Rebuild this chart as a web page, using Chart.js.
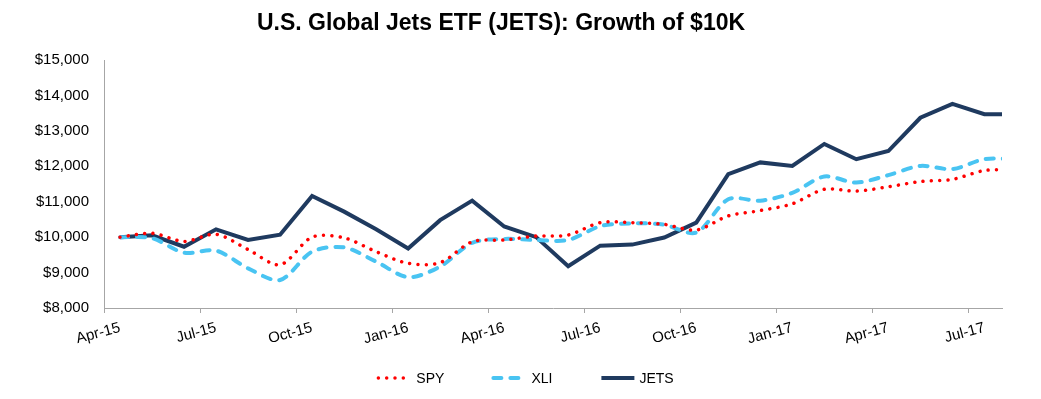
<!DOCTYPE html>
<html>
<head>
<meta charset="utf-8">
<script src="https://cdn.jsdelivr.net/npm/chart.js@4.4.1/dist/chart.umd.min.js"></script>
<style>
    html, body { margin: 0; padding: 0; background: #fff; }
    #wrap { width: 1041px; height: 399px; position: relative; }
</style>
</head>
<body>
<div id="wrap"><canvas id="jetsChart" width="1041" height="399"></canvas></div>
<script>
// Monthly values, Apr-15 .. Aug-17 (last month only partly visible at the right edge)
const months = [
    "Apr-15", "May-15", "Jun-15", "Jul-15", "Aug-15", "Sep-15", "Oct-15", "Nov-15", "Dec-15",
    "Jan-16", "Feb-16", "Mar-16", "Apr-16", "May-16", "Jun-16", "Jul-16", "Aug-16", "Sep-16",
    "Oct-16", "Nov-16", "Dec-16", "Jan-17", "Feb-17", "Mar-17", "Apr-17", "May-17", "Jun-17",
    "Jul-17", "Aug-17"
];
const tickLabels = ["Apr-15", "Jul-15", "Oct-15", "Jan-16", "Apr-16", "Jul-16", "Oct-16", "Jan-17", "Apr-17", "Jul-17"];

const spyValues = [
    10000, 10110, 9880, 10080, 9650, 9220, 10000, 9980, 9590,
    9260, 9280, 9870, 9920, 10030, 10060, 10410, 10410, 10360,
    10200, 10600, 10750, 10940, 11350, 11300, 11420, 11570, 11630,
    11880, 11900
];
const xliValues = [
    10000, 9970, 9560, 9620, 9120, 8790, 9590, 9710, 9310,
    8870, 9170, 9840, 9950, 9920, 9920, 10310, 10390, 10350,
    10130, 11070, 11030, 11250, 11710, 11540, 11750, 12010, 11920,
    12200, 12200
];
const jetsValues = [
    10000, 10050, 9730, 10220, 9920, 10070, 11160, 10720, 10220,
    9680, 10480, 11030, 10300, 10000, 9180, 9760, 9790, 9990,
    10410, 11780, 12110, 12010, 12630, 12200, 12430, 13370, 13760,
    13470, 13470
];

const yTicks = [8000, 9000, 10000, 11000, 12000, 13000, 14000, 15000];

const FONT = '"Liberation Sans", Arial, sans-serif';
const axisGray = "#A6A6A6";

function toPoints(values) {
    return values.map((v, i) => ({ x: i, y: v }));
}

// Title drawn by hand so it can sit slightly left of the canvas centre, like the original
const titlePlugin = {
    id: "customTitle",
    afterDraw(chart) {
        const ctx = chart.ctx;
        ctx.save();
        ctx.font = `bold 23px ${FONT}`;
        ctx.fillStyle = "#000";
        ctx.textAlign = "center";
        ctx.textBaseline = "alphabetic";
        ctx.fillText("U.S. Global Jets ETF (JETS): Growth of $10K", 501, 30);
        ctx.restore();
    },
};

// Legend built from the datasets' own line styles
const legendPlugin = {
    id: "lineLegend",
    afterDraw(chart) {
        const ctx = chart.ctx;
        const sampleWidth = 37;
        const textGap = 3;
        const itemGap = 47;
        const centerX = 525;
        const y = 378;

        ctx.save();
        ctx.font = `14px ${FONT}`;
        const items = chart.data.datasets.map((ds) => ({ ds, w: ctx.measureText(ds.label).width }));
        const total = items.reduce((s, it) => s + sampleWidth + textGap + it.w, 0) + itemGap * (items.length - 1);
        let x = centerX - total / 2;

        items.forEach(({ ds, w }) => {
            ctx.beginPath();
            ctx.strokeStyle = ds.borderColor;
            ctx.lineWidth = ds.borderWidth;
            ctx.lineCap = ds.borderCapStyle || "butt";
            ctx.setLineDash(ds.borderDash || []);
            ctx.moveTo(x + 2, y);
            ctx.lineTo(x + sampleWidth - 2, y);
            ctx.stroke();
            ctx.setLineDash([]);

            ctx.fillStyle = "#000";
            ctx.textAlign = "left";
            ctx.textBaseline = "middle";
            ctx.fillText(ds.label, x + sampleWidth + textGap, y + 1);
            x += sampleWidth + textGap + w + itemGap;
        });
        ctx.restore();
    },
};

const ctx = document.getElementById("jetsChart").getContext("2d");

new Chart(ctx, {
    type: "line",
    data: {
        datasets: [
            {
                label: "SPY",
                data: toPoints(spyValues),
                borderColor: "#FF0000",
                borderWidth: 3.5,
                borderDash: [0.01, 8.3],
                borderCapStyle: "round",
                tension: 0.3,
                pointRadius: 0,
                fill: false,
                clip: { left: 5, top: 5, bottom: 5, right: 0 },
            },
            {
                label: "XLI",
                data: toPoints(xliValues),
                borderColor: "#49C4F2",
                borderWidth: 4,
                borderDash: [8, 9],
                borderCapStyle: "round",
                tension: 0.3,
                pointRadius: 0,
                fill: false,
                clip: { left: 5, top: 5, bottom: 5, right: 0 },
            },
            {
                label: "JETS",
                data: toPoints(jetsValues),
                borderColor: "#1F3A5F",
                borderWidth: 4,
                borderCapStyle: "butt",
                borderJoinStyle: "miter",
                tension: 0,
                pointRadius: 0,
                fill: false,
                clip: { left: 5, top: 5, bottom: 5, right: 0 },
            },
        ],
    },
    options: {
        responsive: false,
        animation: false,
        events: [],
        layout: {
            padding: { top: 60, right: 39, bottom: 0, left: 0 },
        },
        plugins: {
            legend: { display: false },
            title: { display: false },
            tooltip: { enabled: false },
        },
        scales: {
            x: {
                type: "linear",
                min: -0.5,
                max: 27.55,
                afterBuildTicks: (scale) => {
                    scale.ticks = tickLabels.map((label) => ({ value: months.indexOf(label) - 0.5 }));
                },
                afterFit: (scale) => {
                    scale.height = 91;
                },
                grid: {
                    drawOnChartArea: false,
                    drawTicks: true,
                    tickLength: 5,
                    color: axisGray,
                },
                border: { display: true, color: axisGray, width: 1 },
                ticks: {
                    autoSkip: false,
                    minRotation: 15,
                    maxRotation: 15,
                    labelOffset: 16,
                    padding: 6,
                    color: "#000",
                    font: { family: FONT, size: 15 },
                    callback: (value, index) => tickLabels[index],
                },
            },
            y: {
                min: 8000,
                max: 15000,
                afterBuildTicks: (scale) => {
                    scale.ticks = yTicks.map((v) => ({ value: v }));
                },
                afterFit: (scale) => {
                    scale.width = 104;
                },
                grid: {
                    drawOnChartArea: false,
                    drawTicks: false,
                },
                border: { display: true, color: axisGray, width: 1 },
                ticks: {
                    padding: 15,
                    color: "#000",
                    font: { family: FONT, size: 15 },
                    callback: (value) => "$" + Number(value).toLocaleString("en-US"),
                },
            },
        },
    },
    plugins: [titlePlugin, legendPlugin],
});
</script>
</body>
</html>
